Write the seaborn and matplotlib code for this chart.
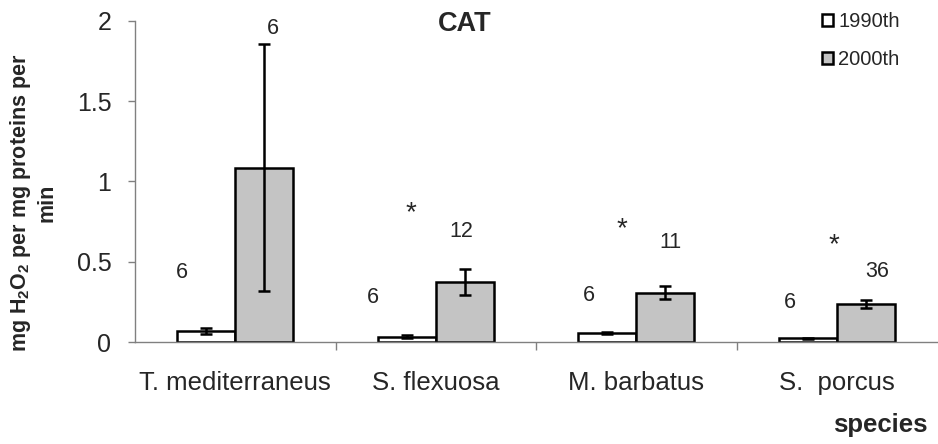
import matplotlib
matplotlib.use("Agg")
import matplotlib.pyplot as plt
import seaborn as sns
import pandas as pd
from matplotlib.patches import Patch

# ---- data ----
species = ["T. mediterraneus", "S. flexuosa", "M. barbatus", "S.  porcus"]
periods = ["1990th", "2000th"]
v1990 = [0.070, 0.033, 0.054, 0.023]
e1990 = [0.018, 0.008, 0.006, 0.003]
v2000 = [1.087, 0.375, 0.306, 0.236]
e2000 = [0.767, 0.080, 0.040, 0.027]
n_labels = ["6", "6", "6", "12", "6", "11", "6", "36"]
n_pos = [(-0.266, 0.43), (0.187, 1.956), (0.684, 0.28), (1.127, 0.69),
         (1.764, 0.287), (2.17, 0.617), (2.764, 0.243), (3.20, 0.442)]
star_pos = [(0.878, 0.80), (1.928, 0.70), (2.988, 0.60)]
yticks = [0, 0.5, 1, 1.5, 2]
yticklabels = ["0", "0.5", "1", "1.5", "2"]

sns.set_style("white")
plt.rcParams["font.family"] = ["Liberation Sans", "DejaVu Sans"]
plt.rcParams["mathtext.fontset"] = "custom"
plt.rcParams["mathtext.rm"] = "Liberation Sans"
plt.rcParams["mathtext.bf"] = "Liberation Sans:bold"

df = pd.DataFrame({
    "species": species * 2,
    "period": [periods[0]] * 4 + [periods[1]] * 4,
    "value": v1990 + v2000,
})

fig = plt.figure(figsize=(9.38, 4.44), dpi=100)
ax = fig.add_axes([135 / 938, 1 - 342 / 444, 802 / 938, 321 / 444])

sns.barplot(data=df, x="species", y="value", hue="period", order=species,
            hue_order=periods, palette=["white", "#c4c4c4"], width=0.577,
            edgecolor="black", linewidth=1.8, errorbar=None, ax=ax,
            legend=False, saturation=1)

errs = [e1990, e2000]
for cont, err in zip(ax.containers, errs):
    for bar, e in zip(cont, err):
        ax.errorbar(bar.get_x() + bar.get_width() / 2, bar.get_height(), yerr=e,
                    fmt="none", ecolor="black", elinewidth=1.8, capsize=4,
                    capthick=1.8, zorder=5)

ax.set_xlim(-0.5, 3.5)
ax.set_ylim(0, 2)
ax.set_yticks(yticks)
ax.set_yticklabels(yticklabels, fontsize=18)
ax.tick_params(axis="y", length=5, width=1, color="#808080", direction="out", pad=12, left=True)
ax.tick_params(axis="x", which="major", length=0, labelsize=18.5, pad=21)
ax.set_xticks([0.5, 1.5, 2.5], minor=True)
ax.tick_params(axis="x", which="minor", length=6, width=1, color="#808080", direction="out", bottom=True)
for s in ["top", "right"]:
    ax.spines[s].set_visible(False)
for s in ["left", "bottom"]:
    ax.spines[s].set_color("#808080")
    ax.spines[s].set_linewidth(1)
ax.set_xlabel("")
ax.set_ylabel("")

for lab, (x, y) in zip(n_labels, n_pos):
    ax.text(x, y, lab, fontsize=15.5, ha="center", va="center")
for x, y in star_pos:
    ax.text(x, y, "*", fontsize=20, ha="center", va="center")

fig.text(465 / 938, 1 - 24 / 444, "CAT", fontsize=19.5, fontweight="bold", ha="center", va="center")
fig.text(880 / 938, 1 - 425 / 444, "species", fontsize=18.5, fontweight="bold", ha="center", va="center")
fig.text(33 / 938, 1 - 203 / 444,
         "mg H$_\\mathbf{2}$O$_\\mathbf{2}$ per mg proteins per\nmin",
         fontsize=15.5, fontweight="bold", rotation=90, ha="center", va="center",
         multialignment="center", linespacing=1.25)

handles = [Patch(facecolor="white", edgecolor="black", linewidth=1.8),
           Patch(facecolor="#c4c4c4", edgecolor="black", linewidth=1.8)]
fig.legend(handles, periods, loc="upper left", bbox_to_anchor=(812 / 938, 1 - 2 / 444),
           frameon=False, fontsize=14.5, handlelength=0.55, handleheight=0.55,
           handletextpad=0.25, labelspacing=0.95, borderpad=0)

fig.savefig("out.png", dpi=100)
